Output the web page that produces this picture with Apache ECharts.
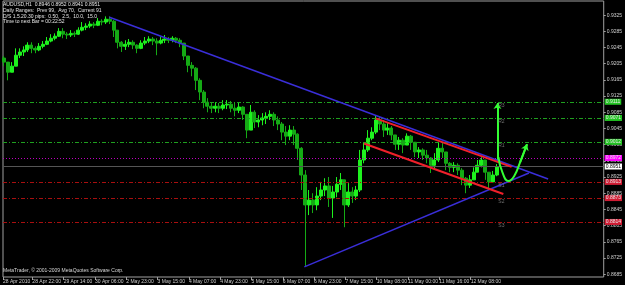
<!DOCTYPE html>
<html>
<head>
<meta charset="utf-8">
<script src="https://cdn.jsdelivr.net/npm/echarts@6/dist/echarts.min.js"></script>
<style>
  html, body { margin: 0; padding: 0; background: #000; }
  #chart { width: 625px; height: 285px; }
</style>
</head>
<body>
<div id="chart"></div>
<script>
const chart = echarts.init(document.getElementById("chart"));

// ==========================
// DATA (AUDUSD, 2-hour candles)
// ==========================

const FIRST_OPEN = 0.9219;

const closes = [
  0.9209, 0.9184, 0.9199, 0.9226, 0.9234, 0.9239, 0.9251, 0.9243, 0.9239, 0.9248,
  0.9253, 0.9261, 0.9268, 0.9273, 0.9285, 0.9278, 0.9276, 0.9280, 0.9278, 0.9288,
  0.9295, 0.9298, 0.9303, 0.9300, 0.9310, 0.9308, 0.9315, 0.9310, 0.9288, 0.9258,
  0.9248, 0.9253, 0.9258, 0.9251, 0.9243, 0.9256, 0.9261, 0.9266, 0.9261, 0.9256,
  0.9263, 0.9266, 0.9263, 0.9268, 0.9263, 0.9256, 0.9224, 0.9201, 0.9194, 0.9164,
  0.9135, 0.9110, 0.9100, 0.9095, 0.9100, 0.9095, 0.9103, 0.9105, 0.9095, 0.9090,
  0.9098, 0.9080, 0.9041, 0.9085, 0.9061, 0.9066, 0.9071, 0.9075, 0.9080, 0.9066,
  0.9056, 0.9036, 0.9026, 0.9041, 0.9031, 0.8996, 0.8930, 0.8856, 0.8868, 0.8856,
  0.8878, 0.8893, 0.8903, 0.8873, 0.8888, 0.8907, 0.8918, 0.8856, 0.8888, 0.8878,
  0.8893, 0.8967, 0.8992, 0.9021, 0.9036, 0.9066, 0.9056, 0.9041, 0.9046, 0.9029,
  0.9006, 0.9016, 0.9004, 0.9026, 0.9011, 0.8987, 0.8992, 0.8979, 0.8972, 0.8954,
  0.8967, 0.8996, 0.8987, 0.8959, 0.8949, 0.8954, 0.8942, 0.8922, 0.8905, 0.8918,
  0.8937, 0.8954, 0.8967, 0.8937, 0.8913, 0.8930, 0.8951
];

const highs = [
  0.9224, 0.9209, 0.9209, 0.9243, 0.9243, 0.9248, 0.9258, 0.9258, 0.9248, 0.9256,
  0.9261, 0.9271, 0.9278, 0.9280, 0.9293, 0.9293, 0.9283, 0.9288, 0.9285, 0.9295,
  0.9308, 0.9305, 0.9310, 0.9308, 0.9318, 0.9315, 0.9322, 0.9322, 0.9313, 0.9288,
  0.9261, 0.9263, 0.9266, 0.9263, 0.9253, 0.9263, 0.9271, 0.9273, 0.9271, 0.9268,
  0.9271, 0.9276, 0.9271, 0.9273, 0.9271, 0.9268, 0.9256, 0.9224, 0.9209, 0.9197,
  0.9169, 0.9140, 0.9120, 0.9110, 0.9110, 0.9108, 0.9115, 0.9115, 0.9113, 0.9108,
  0.9110, 0.9100, 0.9080, 0.9103, 0.9090, 0.9078, 0.9083, 0.9085, 0.9090, 0.9085,
  0.9075, 0.9061, 0.9051, 0.9053, 0.9051, 0.9033, 0.8999, 0.8942, 0.8893, 0.8885,
  0.8900, 0.8913, 0.8922, 0.8925, 0.8903, 0.8925, 0.8935, 0.8918, 0.8910, 0.8900,
  0.8903, 0.8992, 0.9009, 0.9041, 0.9048, 0.9078, 0.9075, 0.9066, 0.9058, 0.9051,
  0.9029, 0.9024, 0.9021, 0.9033, 0.9029, 0.9011, 0.8999, 0.8996, 0.8992, 0.8974,
  0.8984, 0.9011, 0.9009, 0.8987, 0.8962, 0.8962, 0.8959, 0.8947, 0.8925, 0.8930,
  0.8949, 0.8967, 0.8974, 0.8967, 0.8937, 0.8940, 0.8957
];

const lows = [
  0.9199, 0.9164, 0.9184, 0.9199, 0.9219, 0.9224, 0.9234, 0.9231, 0.9231, 0.9236,
  0.9243, 0.9251, 0.9258, 0.9263, 0.9271, 0.9268, 0.9266, 0.9271, 0.9271, 0.9276,
  0.9285, 0.9288, 0.9293, 0.9293, 0.9298, 0.9300, 0.9303, 0.9303, 0.9271, 0.9243,
  0.9234, 0.9239, 0.9246, 0.9241, 0.9231, 0.9241, 0.9251, 0.9256, 0.9251, 0.9226,
  0.9253, 0.9256, 0.9256, 0.9258, 0.9256, 0.9246, 0.9214, 0.9184, 0.9174, 0.9140,
  0.9115, 0.9095, 0.9085, 0.9083, 0.9085, 0.9083, 0.9090, 0.9093, 0.9085, 0.9075,
  0.9083, 0.9066, 0.9021, 0.9041, 0.9046, 0.9048, 0.9053, 0.9056, 0.9066, 0.9051,
  0.9041, 0.9016, 0.9004, 0.9016, 0.9004, 0.8967, 0.8893, 0.8703, 0.8831, 0.8836,
  0.8843, 0.8868, 0.8878, 0.8851, 0.8824, 0.8875, 0.8893, 0.8801, 0.8851, 0.8861,
  0.8868, 0.8888, 0.8959, 0.8987, 0.9016, 0.9031, 0.9041, 0.9024, 0.9029, 0.9016,
  0.8992, 0.8992, 0.8984, 0.9004, 0.8992, 0.8974, 0.8972, 0.8967, 0.8959, 0.8935,
  0.8947, 0.8962, 0.8972, 0.8942, 0.8937, 0.8937, 0.8930, 0.8905, 0.8885, 0.8898,
  0.8918, 0.8937, 0.8949, 0.8918, 0.8893, 0.8913, 0.8927
];

// pivot levels and current bid
const pivotNames = ["R3", "R2", "R1", "P", "S1", "S2", "S3"];
const pivotValues = [0.9111, 0.9071, 0.9012, 0.8972, 0.8913, 0.8873, 0.8814];
const bidPrice = 0.8951;

// axis ticks (x in hourly bar units)
const yTicks = [
  0.8685, 0.8725, 0.8765, 0.8805, 0.8845, 0.8885, 0.8925, 0.8965, 0.9005,
  0.9045, 0.9085, 0.9125, 0.9165, 0.9205, 0.9245, 0.9285, 0.9325
];
const xTicks = [1, 16, 32, 48, 64, 80, 96, 112, 128, 144, 160, 176, 192, 208, 224, 240];
const xTickLabels = [
  "28 Apr 2010", "28 Apr 22:00", "29 Apr 14:00", "30 Apr 06:00", "2 May 23:00",
  "3 May 15:00", "4 May 07:00", "4 May 23:00", "5 May 15:00", "6 May 07:00",
  "6 May 23:00", "7 May 15:00", "10 May 08:00", "11 May 00:00", "11 May 16:00",
  "12 May 08:00"
];

// drawn objects: [bar, price]
const upperTrend = [[55.4, 0.9320], [279.6, 0.8920]];
const lowerTrend = [[155.0, 0.8703], [269.8, 0.8935]];
const channelTop = [[191.5, 0.9070], [260.9, 0.8950]];
const channelBottom = [[185.5, 0.9008], [256.7, 0.8883]];
const targetUp = [[253.7, 0.8967], [253.7, 0.9108]];
const swingPath = [[254.2, 0.8974], [256.2, 0.8937], [259.3, 0.8915], [262.2, 0.8927], [265.3, 0.8962], [268.8, 0.9006]];

const infoLines = [
  "AUDUSD,H1  0.8946 0.8952 0.8941 0.8951",
  "Daily Ranges:  Prev 99,  Avg 70,  Current 91",
  "D/S 1.5.20.30 pips:  0.50,  2.5,  10.0,  15.0",
  "Time to next Bar = 00:22:52"
];

// ==========================
// BUILD SERIES DATA
// ==========================

const candles = closes.map((c, j) => [
  2 * j + 1.5,
  j === 0 ? FIRST_OPEN : closes[j - 1],
  c,
  lows[j],
  highs[j]
]);

const FONT = "Liberation Sans";

function levelStyle(name) {
  if (name[0] === "R") return { line: "#1f9f1f", box: "#22c322", type: [4, 2, 1, 2] };
  if (name[0] === "S") return { line: "#a80f0f", box: "#d01c34", type: [4, 2, 1, 2] };
  return { line: "#c000c0", box: "#ff00ff", type: [1, 2] };
}

function levelLabel(v, bg, fg) {
  return {
    show: true, position: "end", distance: 1,
    formatter: v.toFixed(4),
    backgroundColor: bg, color: fg,
    fontSize: 5, fontFamily: FONT, padding: [1, 1, 0, 1]
  };
}

const levelLines = pivotValues.map((v, i) => {
  const st = levelStyle(pivotNames[i]);
  return [
    { coord: [1, v], lineStyle: { color: st.line, width: 1, type: st.type }, label: levelLabel(v, st.box, "#e8e8e8") },
    { coord: [308, v] }
  ];
});

levelLines.push([
  { coord: [1, bidPrice], lineStyle: { color: "#555555", width: 1, type: "solid" }, label: levelLabel(bidPrice, "#ffffff", "#000000") },
  { coord: [308, bidPrice] }
]);

const pivotTags = pivotNames
  .map((n, i) => ({ name: n, value: [255.7, pivotValues[i]] }))
  .filter(d => d.name !== "P");

function trend(data, color, width) {
  return {
    type: "line",
    data: data,
    symbol: "none",
    silent: true,
    z: 5,
    lineStyle: { color: color, width: width }
  };
}

// ==========================
// INIT
// ==========================

chart.setOption({
  animation: false,
  backgroundColor: "#000000",

  grid: {
    left: 2, right: 19, top: 1, bottom: 8,
    show: true,
    backgroundColor: "#000000",
    borderColor: "#a0a0a0",
    borderWidth: 1
  },

  xAxis: {
    type: "value",
    min: 1,
    max: 308,
    axisLine: { show: false },
    splitLine: { show: false },
    axisTick: {
      show: true, length: 3,
      customValues: xTicks,
      lineStyle: { color: "#a0a0a0" }
    },
    axisLabel: {
      customValues: xTicks,
      formatter: v => xTickLabels[xTicks.indexOf(v)] || "",
      align: "left",
      margin: 2,
      color: "#d0d0d0",
      fontSize: 5,
      fontFamily: FONT
    }
  },

  yAxis: {
    type: "value",
    position: "right",
    min: 0.8678,
    max: 0.9360,
    axisLine: { show: false },
    splitLine: { show: false },
    axisTick: {
      show: true, length: 2,
      customValues: yTicks,
      lineStyle: { color: "#a0a0a0" }
    },
    axisLabel: {
      customValues: yTicks,
      formatter: v => v.toFixed(4),
      margin: 3,
      color: "#d0d0d0",
      fontSize: 5,
      fontFamily: FONT
    }
  },

  graphic: [
    {
      type: "text", left: 3, top: 2, silent: true,
      style: {
        text: infoLines.join("\n"),
        fill: "#e6e6e6", fontSize: 5, fontFamily: FONT, lineHeight: 5.7
      }
    },
    {
      type: "text", left: 3, top: 268, silent: true,
      style: {
        text: "MetaTrader, © 2001-2009 MetaQuotes Software Corp.",
        fill: "#d8d8d8", fontSize: 5, fontFamily: FONT
      }
    }
  ],

  series: [
    {
      // horizontal level lines
      type: "line",
      data: [],
      silent: true,
      z: 1,
      markLine: {
        silent: true,
        symbol: "none",
        data: levelLines
      }
    },
    {
      type: "candlestick",
      data: candles,
      encode: { x: 0, y: [1, 2, 3, 4] },
      barWidth: 3.5,
      silent: true,
      z: 3,
      itemStyle: {
        color: "#1ef21e",
        color0: "#15aa15",
        borderColor: "#1ef21e",
        borderColor0: "#15aa15",
        borderWidth: 1
      }
    },
    trend(upperTrend, "#3a2ed8", 1.5),
    trend(lowerTrend, "#3a2ed8", 1.5),
    trend(channelTop, "#f0202a", 2),
    trend(channelBottom, "#f0202a", 2),
    {
      type: "line",
      data: swingPath,
      smooth: 0.5,
      symbol: "none",
      silent: true,
      z: 6,
      lineStyle: { color: "#33ff33", width: 2 },
      markLine: {
        silent: true,
        symbol: ["none", "arrow"],
        symbolSize: 6,
        label: { show: false },
        lineStyle: { color: "#33ff33", width: 2, type: "solid" },
        data: [
          [{ coord: targetUp[0] }, { coord: targetUp[1] }],
          [{ coord: swingPath[4] }, { coord: swingPath[5] }]
        ]
      }
    },
    {
      type: "scatter",
      data: pivotTags,
      symbolSize: 0,
      silent: true,
      z: 8,
      label: {
        show: true, position: "bottom", distance: 1,
        formatter: "{b}",
        color: "#8a8a8a", fontSize: 5, fontFamily: FONT
      }
    }
  ]
});
</script>
</body>
</html>
